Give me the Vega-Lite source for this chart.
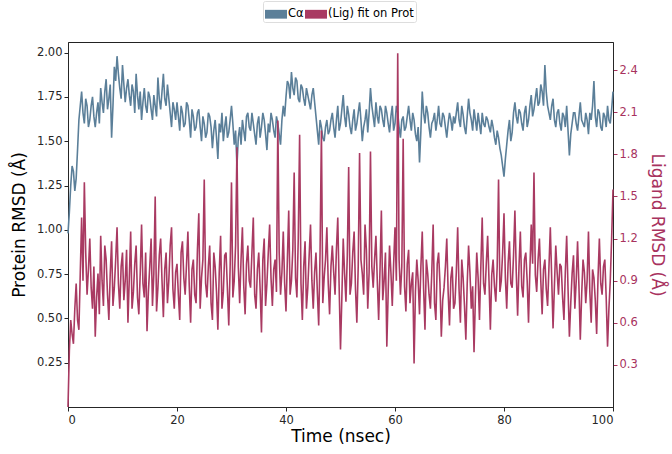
{
"$schema":"https://vega.github.io/schema/vega-lite/v6.json",
"width":545,"height":365,
"autosize":{"type":"none"},
"padding":{"left":68,"top":42,"right":59,"bottom":47},
"background":"white",
"config":{"font":"DejaVu Sans","view":{"stroke":"#222222","strokeWidth":1},
 "axis":{"grid":false,"labelFont":"DejaVu Sans","labelFontSize":11.5,"labelColor":"#262626","tickColor":"#262626","domainColor":"#262626","titleFont":"DejaVu Sans","titleFontSize":17,"titleFontWeight":"normal","titleColor":"black","tickSize":4}},
"data":{"values":[
{"t":0,"p":0.98,"l":0},{"t":0.25,"p":1.1,"l":0.4},{"t":0.5,"p":1.25,"l":0.62},{"t":0.75,"p":1.36,"l":0.52},{"t":1,"p":1.33,"l":0.45},{"t":1.25,"p":1.22,"l":0.7},{"t":1.5,"p":1.29,"l":0.88},{"t":1.75,"p":1.45,"l":0.62},{"t":2,"p":1.62,"l":0.55},{"t":2.25,"p":1.7,"l":0.95},{"t":2.5,"p":1.78,"l":1.35},{"t":2.75,"p":1.66,"l":0.9},{"t":3,"p":1.6,"l":1.6},{"t":3.25,"p":1.74,"l":1.1},{"t":3.5,"p":1.7,"l":0.8},{"t":3.75,"p":1.58,"l":0.98},{"t":4,"p":1.62,"l":1.2},{"t":4.25,"p":1.7,"l":0.85},{"t":4.5,"p":1.75,"l":0.7},{"t":4.75,"p":1.64,"l":1.0},
{"t":5,"p":1.58,"l":0.5},{"t":5.25,"p":1.66,"l":0.78},{"t":5.5,"p":1.72,"l":0.95},{"t":5.75,"p":1.6,"l":0.66},{"t":6,"p":1.8,"l":1.22},{"t":6.25,"p":1.72,"l":0.9},{"t":6.5,"p":1.66,"l":0.72},{"t":6.75,"p":1.78,"l":1.15},{"t":7,"p":1.85,"l":1.05},{"t":7.25,"p":1.68,"l":0.8},{"t":7.5,"p":1.74,"l":0.62},{"t":7.75,"p":1.82,"l":0.95},{"t":8,"p":1.52,"l":1.18},{"t":8.25,"p":1.7,"l":0.72},{"t":8.5,"p":1.92,"l":0.85},{"t":8.75,"p":1.84,"l":1.05},{"t":9,"p":1.98,"l":1.28},{"t":9.25,"p":1.88,"l":0.88},{"t":9.5,"p":1.8,"l":0.7},{"t":9.75,"p":1.74,"l":1.0},
{"t":10,"p":1.93,"l":1.1},{"t":10.25,"p":1.82,"l":0.76},{"t":10.5,"p":1.72,"l":0.9},{"t":10.75,"p":1.8,"l":1.12},{"t":11,"p":1.85,"l":0.6},{"t":11.25,"p":1.76,"l":0.92},{"t":11.5,"p":1.7,"l":1.25},{"t":11.75,"p":1.82,"l":0.7},{"t":12,"p":1.78,"l":0.82},{"t":12.25,"p":1.66,"l":1.02},{"t":12.5,"p":1.88,"l":1.15},{"t":12.75,"p":1.76,"l":0.78},{"t":13,"p":1.68,"l":0.66},{"t":13.25,"p":1.78,"l":0.95},{"t":13.5,"p":1.62,"l":1.3},{"t":13.75,"p":1.72,"l":0.88},{"t":14,"p":1.8,"l":0.78},{"t":14.25,"p":1.7,"l":1.1},{"t":14.5,"p":1.66,"l":0.54},{"t":14.75,"p":1.78,"l":0.82},
{"t":15,"p":1.75,"l":1.0},{"t":15.25,"p":1.68,"l":1.2},{"t":15.5,"p":1.62,"l":0.72},{"t":15.75,"p":1.76,"l":0.95},{"t":16,"p":1.7,"l":1.5},{"t":16.25,"p":1.64,"l":0.68},{"t":16.5,"p":1.86,"l":0.85},{"t":16.75,"p":1.74,"l":1.08},{"t":17,"p":1.68,"l":1.2},{"t":17.25,"p":1.78,"l":0.9},{"t":17.5,"p":1.88,"l":0.64},{"t":17.75,"p":1.74,"l":0.98},{"t":18,"p":1.7,"l":1.1},{"t":18.25,"p":1.82,"l":0.74},{"t":18.5,"p":1.74,"l":0.9},{"t":18.75,"p":1.66,"l":1.15},{"t":19,"p":1.58,"l":1.28},{"t":19.25,"p":1.72,"l":0.84},{"t":19.5,"p":1.68,"l":0.7},{"t":19.75,"p":1.62,"l":0.96},
{"t":20,"p":1.72,"l":1.02},{"t":20.25,"p":1.64,"l":0.8},{"t":20.5,"p":1.56,"l":0.62},{"t":20.75,"p":1.7,"l":1.1},{"t":21,"p":1.66,"l":1.18},{"t":21.25,"p":1.58,"l":0.92},{"t":21.5,"p":1.6,"l":0.8},{"t":21.75,"p":1.72,"l":1.02},{"t":22,"p":1.7,"l":1.25},{"t":22.25,"p":1.62,"l":0.86},{"t":22.5,"p":1.52,"l":0.6},{"t":22.75,"p":1.68,"l":0.98},{"t":23,"p":1.64,"l":1.05},{"t":23.25,"p":1.56,"l":0.8},{"t":23.5,"p":1.58,"l":0.74},{"t":23.75,"p":1.66,"l":1.12},{"t":24,"p":1.68,"l":1.38},{"t":24.25,"p":1.58,"l":0.7},{"t":24.5,"p":1.5,"l":0.92},{"t":24.75,"p":1.64,"l":1.05},
{"t":25,"p":1.6,"l":1.62},{"t":25.25,"p":1.52,"l":0.88},{"t":25.5,"p":1.55,"l":0.78},{"t":25.75,"p":1.66,"l":1.0},{"t":26,"p":1.64,"l":1.15},{"t":26.25,"p":1.58,"l":0.74},{"t":26.5,"p":1.46,"l":0.62},{"t":26.75,"p":1.56,"l":1.1},{"t":27,"p":1.62,"l":1.0},{"t":27.25,"p":1.52,"l":0.82},{"t":27.5,"p":1.4,"l":0.55},{"t":27.75,"p":1.6,"l":0.96},{"t":28,"p":1.55,"l":1.22},{"t":28.25,"p":1.66,"l":0.7},{"t":28.5,"p":1.5,"l":0.82},{"t":28.75,"p":1.58,"l":1.08},{"t":29,"p":1.64,"l":1.1},{"t":29.25,"p":1.52,"l":0.84},{"t":29.5,"p":1.55,"l":0.58},{"t":29.75,"p":1.62,"l":1.0},
{"t":30,"p":1.7,"l":1.6},{"t":30.25,"p":1.6,"l":0.78},{"t":30.5,"p":1.48,"l":0.9},{"t":30.75,"p":1.56,"l":1.15},{"t":31,"p":1.36,"l":1.85},{"t":31.25,"p":1.52,"l":1.0},{"t":31.5,"p":1.58,"l":0.74},{"t":31.75,"p":1.48,"l":1.05},{"t":32,"p":1.62,"l":1.28},{"t":32.25,"p":1.56,"l":0.86},{"t":32.5,"p":1.5,"l":0.66},{"t":32.75,"p":1.64,"l":1.02},{"t":33,"p":1.66,"l":1.15},{"t":33.25,"p":1.58,"l":0.9},{"t":33.5,"p":1.56,"l":0.85},{"t":33.75,"p":1.66,"l":1.1},{"t":34,"p":1.6,"l":1.35},{"t":34.25,"p":1.54,"l":0.8},{"t":34.5,"p":1.48,"l":0.7},{"t":34.75,"p":1.6,"l":0.98},
{"t":35,"p":1.64,"l":1.1},{"t":35.25,"p":1.52,"l":0.84},{"t":35.5,"p":1.58,"l":0.53},{"t":35.75,"p":1.66,"l":1.05},{"t":36,"p":1.62,"l":1.2},{"t":36.25,"p":1.54,"l":0.72},{"t":36.5,"p":1.45,"l":0.88},{"t":36.75,"p":1.6,"l":1.1},{"t":37,"p":1.55,"l":1.3},{"t":37.25,"p":1.66,"l":0.92},{"t":37.5,"p":1.62,"l":0.72},{"t":37.75,"p":1.56,"l":0.98},{"t":38,"p":1.52,"l":1.05},{"t":38.25,"p":1.64,"l":0.82},{"t":38.5,"p":1.6,"l":2.04},{"t":38.75,"p":1.54,"l":1.1},{"t":39,"p":1.48,"l":0.8},{"t":39.25,"p":1.62,"l":0.96},{"t":39.5,"p":1.7,"l":1.25},{"t":39.75,"p":1.64,"l":0.88},
{"t":40,"p":1.75,"l":0.68},{"t":40.25,"p":1.84,"l":1.05},{"t":40.5,"p":1.82,"l":1.4},{"t":40.75,"p":1.74,"l":0.8},{"t":41,"p":1.89,"l":0.9},{"t":41.25,"p":1.8,"l":1.12},{"t":41.5,"p":1.76,"l":1.67},{"t":41.75,"p":1.86,"l":0.92},{"t":42,"p":1.84,"l":0.78},{"t":42.25,"p":1.74,"l":1.2},{"t":42.5,"p":1.72,"l":1.94},{"t":42.75,"p":1.82,"l":0.88},{"t":43,"p":1.8,"l":0.62},{"t":43.25,"p":1.74,"l":1.0},{"t":43.5,"p":1.7,"l":1.18},{"t":43.75,"p":1.8,"l":0.7},{"t":44,"p":1.76,"l":0.85},{"t":44.25,"p":1.72,"l":1.08},{"t":44.5,"p":1.68,"l":1.3},{"t":44.75,"p":1.76,"l":0.9},
{"t":45,"p":1.8,"l":0.7},{"t":45.25,"p":1.72,"l":0.96},{"t":45.5,"p":1.64,"l":1.1},{"t":45.75,"p":1.56,"l":0.82},{"t":46,"p":1.48,"l":0.58},{"t":46.25,"p":1.62,"l":1.1},{"t":46.5,"p":1.58,"l":1.97},{"t":46.75,"p":1.52,"l":0.74},{"t":47,"p":1.5,"l":0.92},{"t":47.25,"p":1.58,"l":1.05},{"t":47.5,"p":1.62,"l":1.28},{"t":47.75,"p":1.54,"l":0.88},{"t":48,"p":1.56,"l":0.66},{"t":48.25,"p":1.62,"l":1.0},{"t":48.5,"p":1.66,"l":1.15},{"t":48.75,"p":1.58,"l":0.96},{"t":49,"p":1.52,"l":0.8},{"t":49.25,"p":1.62,"l":1.12},{"t":49.5,"p":1.7,"l":1.35},{"t":49.75,"p":1.56,"l":0.86},
{"t":50,"p":1.6,"l":0.41},{"t":50.25,"p":1.68,"l":0.78},{"t":50.5,"p":1.76,"l":1.2},{"t":50.75,"p":1.64,"l":0.95},{"t":51,"p":1.58,"l":0.75},{"t":51.25,"p":1.7,"l":1.08},{"t":51.5,"p":1.65,"l":1.71},{"t":51.75,"p":1.58,"l":0.8},{"t":52,"p":1.54,"l":0.88},{"t":52.25,"p":1.62,"l":1.1},{"t":52.5,"p":1.68,"l":1.25},{"t":52.75,"p":1.56,"l":0.84},{"t":53,"p":1.6,"l":0.6},{"t":53.25,"p":1.66,"l":1.0},{"t":53.5,"p":1.72,"l":1.81},{"t":53.75,"p":1.62,"l":1.05},{"t":54,"p":1.5,"l":0.95},{"t":54.25,"p":1.58,"l":0.8},{"t":54.5,"p":1.62,"l":1.3},{"t":54.75,"p":1.68,"l":1.12},
{"t":55,"p":1.55,"l":0.7},{"t":55.25,"p":1.66,"l":0.96},{"t":55.5,"p":1.8,"l":1.82},{"t":55.75,"p":1.7,"l":1.0},{"t":56,"p":1.64,"l":0.85},{"t":56.25,"p":1.58,"l":1.05},{"t":56.5,"p":1.72,"l":1.22},{"t":56.75,"p":1.64,"l":0.9},{"t":57,"p":1.6,"l":0.62},{"t":57.25,"p":1.7,"l":0.98},{"t":57.5,"p":1.68,"l":1.4},{"t":57.75,"p":1.62,"l":0.76},{"t":58,"p":1.58,"l":0.9},{"t":58.25,"p":1.7,"l":1.1},{"t":58.5,"p":1.66,"l":0.43},{"t":58.75,"p":1.6,"l":0.82},{"t":59,"p":1.55,"l":1.15},{"t":59.25,"p":1.64,"l":0.96},{"t":59.5,"p":1.7,"l":0.72},{"t":59.75,"p":1.56,"l":1.02},
{"t":60,"p":1.6,"l":1.28},{"t":60.25,"p":1.7,"l":0.9},{"t":60.5,"p":1.66,"l":2.52},{"t":60.75,"p":1.58,"l":1.05},{"t":61,"p":1.52,"l":0.8},{"t":61.25,"p":1.62,"l":1.0},{"t":61.5,"p":1.64,"l":1.91},{"t":61.75,"p":1.56,"l":0.86},{"t":62,"p":1.58,"l":0.68},{"t":62.25,"p":1.64,"l":1.02},{"t":62.5,"p":1.7,"l":1.12},{"t":62.75,"p":1.62,"l":0.74},{"t":63,"p":1.56,"l":0.88},{"t":63.25,"p":1.66,"l":0.96},{"t":63.5,"p":1.62,"l":0.31},{"t":63.75,"p":1.54,"l":0.82},{"t":64,"p":1.5,"l":1.05},{"t":64.25,"p":1.58,"l":0.9},{"t":64.5,"p":1.38,"l":0.66},{"t":64.75,"p":1.56,"l":1.0},
{"t":65,"p":1.78,"l":1.25},{"t":65.25,"p":1.66,"l":0.84},{"t":65.5,"p":1.6,"l":0.55},{"t":65.75,"p":1.7,"l":1.05},{"t":66,"p":1.66,"l":0.95},{"t":66.25,"p":1.58,"l":0.8},{"t":66.5,"p":1.52,"l":0.7},{"t":66.75,"p":1.6,"l":0.96},{"t":67,"p":1.62,"l":1.3},{"t":67.25,"p":1.66,"l":0.74},{"t":67.5,"p":1.56,"l":0.62},{"t":67.75,"p":1.62,"l":1.02},{"t":68,"p":1.7,"l":1.1},{"t":68.25,"p":1.6,"l":0.88},{"t":68.5,"p":1.58,"l":0.5},{"t":68.75,"p":1.66,"l":0.76},{"t":69,"p":1.64,"l":0.85},{"t":69.25,"p":1.58,"l":1.0},{"t":69.5,"p":1.52,"l":1.2},{"t":69.75,"p":1.6,"l":0.82},
{"t":70,"p":1.66,"l":0.58},{"t":70.25,"p":1.62,"l":0.92},{"t":70.5,"p":1.56,"l":1.0},{"t":70.75,"p":1.64,"l":0.7},{"t":71,"p":1.6,"l":0.74},{"t":71.25,"p":1.66,"l":0.96},{"t":71.5,"p":1.72,"l":1.28},{"t":71.75,"p":1.62,"l":0.84},{"t":72,"p":1.58,"l":0.6},{"t":72.25,"p":1.7,"l":1.05},{"t":72.5,"p":1.65,"l":0.92},{"t":72.75,"p":1.58,"l":0.72},{"t":73,"p":1.54,"l":0.48},{"t":73.25,"p":1.64,"l":0.88},{"t":73.5,"p":1.74,"l":1.15},{"t":73.75,"p":1.66,"l":0.96},{"t":74,"p":1.62,"l":0.7},{"t":74.25,"p":1.56,"l":0.86},{"t":74.5,"p":1.68,"l":0.39},{"t":74.75,"p":1.62,"l":0.78},
{"t":75,"p":1.56,"l":1.1},{"t":75.25,"p":1.66,"l":0.92},{"t":75.5,"p":1.6,"l":0.62},{"t":75.75,"p":1.54,"l":1.0},{"t":76,"p":1.66,"l":1.35},{"t":76.25,"p":1.6,"l":0.88},{"t":76.5,"p":1.58,"l":0.8},{"t":76.75,"p":1.64,"l":1.02},{"t":77,"p":1.62,"l":1.22},{"t":77.25,"p":1.58,"l":0.9},{"t":77.5,"p":1.55,"l":0.55},{"t":77.75,"p":1.62,"l":0.94},{"t":78,"p":1.58,"l":1.05},{"t":78.25,"p":1.52,"l":0.86},{"t":78.5,"p":1.48,"l":0.75},{"t":78.75,"p":1.56,"l":1.0},{"t":79,"p":1.52,"l":1.62},{"t":79.25,"p":1.46,"l":0.82},{"t":79.5,"p":1.42,"l":0.9},{"t":79.75,"p":1.36,"l":1.1},
{"t":80,"p":1.3,"l":1.38},{"t":80.25,"p":1.4,"l":0.92},{"t":80.5,"p":1.48,"l":0.7},{"t":80.75,"p":1.56,"l":1.02},{"t":81,"p":1.62,"l":1.18},{"t":81.25,"p":1.5,"l":0.88},{"t":81.5,"p":1.55,"l":0.85},{"t":81.75,"p":1.66,"l":1.08},{"t":82,"p":1.72,"l":1.4},{"t":82.25,"p":1.64,"l":0.96},{"t":82.5,"p":1.6,"l":0.65},{"t":82.75,"p":1.68,"l":1.0},{"t":83,"p":1.66,"l":1.25},{"t":83.25,"p":1.6,"l":0.86},{"t":83.5,"p":1.56,"l":0.78},{"t":83.75,"p":1.66,"l":1.05},{"t":84,"p":1.7,"l":1.1},{"t":84.25,"p":1.58,"l":0.9},{"t":84.5,"p":1.62,"l":0.6},{"t":84.75,"p":1.7,"l":0.98},
{"t":85,"p":1.76,"l":1.3},{"t":85.25,"p":1.64,"l":1.02},{"t":85.5,"p":1.68,"l":1.67},{"t":85.75,"p":1.74,"l":0.94},{"t":86,"p":1.8,"l":0.82},{"t":86.25,"p":1.7,"l":1.05},{"t":86.5,"p":1.72,"l":1.2},{"t":86.75,"p":1.82,"l":0.9},{"t":87,"p":1.78,"l":0.66},{"t":87.25,"p":1.7,"l":0.98},{"t":87.5,"p":1.93,"l":1.05},{"t":87.75,"p":1.78,"l":0.84},{"t":88,"p":1.7,"l":0.72},{"t":88.25,"p":1.66,"l":1.0},{"t":88.5,"p":1.62,"l":1.28},{"t":88.75,"p":1.7,"l":0.92},{"t":89,"p":1.74,"l":0.56},{"t":89.25,"p":1.62,"l":0.86},{"t":89.5,"p":1.58,"l":1.15},{"t":89.75,"p":1.66,"l":0.96},
{"t":90,"p":1.68,"l":0.8},{"t":90.25,"p":1.6,"l":1.02},{"t":90.5,"p":1.56,"l":1.0},{"t":90.75,"p":1.66,"l":0.78},{"t":91,"p":1.64,"l":0.62},{"t":91.25,"p":1.58,"l":0.96},{"t":91.5,"p":1.7,"l":1.22},{"t":91.75,"p":1.56,"l":0.84},{"t":92,"p":1.42,"l":0.5},{"t":92.25,"p":1.54,"l":0.74},{"t":92.5,"p":1.6,"l":0.95},{"t":92.75,"p":1.66,"l":1.08},{"t":93,"p":1.66,"l":0.7},{"t":93.25,"p":1.6,"l":0.9},{"t":93.5,"p":1.56,"l":1.18},{"t":93.75,"p":1.64,"l":0.86},{"t":94,"p":1.72,"l":0.48},{"t":94.25,"p":1.62,"l":0.8},{"t":94.5,"p":1.6,"l":1.05},{"t":94.75,"p":1.58,"l":0.96},
{"t":95,"p":1.66,"l":0.74},{"t":95.25,"p":1.62,"l":0.9},{"t":95.5,"p":1.54,"l":1.25},{"t":95.75,"p":1.66,"l":0.82},{"t":96,"p":1.62,"l":0.6},{"t":96.25,"p":1.7,"l":0.98},{"t":96.5,"p":1.84,"l":0.92},{"t":96.75,"p":1.64,"l":0.76},{"t":97,"p":1.58,"l":0.52},{"t":97.25,"p":1.68,"l":0.92},{"t":97.5,"p":1.66,"l":1.2},{"t":97.75,"p":1.58,"l":0.88},{"t":98,"p":1.56,"l":0.8},{"t":98.25,"p":1.66,"l":1.0},{"t":98.5,"p":1.64,"l":1.05},{"t":98.75,"p":1.58,"l":0.78},{"t":99,"p":1.7,"l":0.43},{"t":99.25,"p":1.62,"l":0.7},{"t":99.5,"p":1.6,"l":0.9},{"t":99.75,"p":1.68,"l":1.2},
{"t":100,"p":1.78,"l":1.55}
]},
"encoding":{"x":{"field":"t","type":"quantitative","scale":{"domain":[0,100],"nice":false},"axis":{"values":[0,20,40,60,80,100],"title":"Time (nsec)","titlePadding":3,"labelPadding":3}}},
"layer":[
 {"mark":{"type":"line","strokeWidth":1.6,"strokeJoin":"miter"},
  "encoding":{
   "y":{"field":"p","type":"quantitative","scale":{"domain":[0,2.06],"nice":false,"zero":false},"axis":{"values":[0.25,0.5,0.75,1.0,1.25,1.5,1.75,2.0],"format":".2f","title":"Protein RMSD (Å)","titlePadding":8}},
   "color":{"datum":"Cα","type":"nominal","scale":{"domain":["Cα","(Lig) fit on Prot"],"range":["#5b7f99","#a93a62"]},
     "legend":{"orient":"none","legendX":195,"legendY":-41,"direction":"horizontal","title":null,"symbolType":"M-1,-0.4H1V0.4H-1Z","symbolSize":484,"symbolStrokeWidth":0,"labelFontSize":11.5,"labelColor":"black","labelFont":"DejaVu Sans","labelOffset":1,"columnPadding":1,"padding":2,"fillColor":"white","strokeColor":"#dddddd","cornerRadius":2,
       "encode":{"symbols":{"update":{"fill":{"scale":"color","field":"value"},"opacity":{"value":1}}}}}}
  }},
 {"mark":{"type":"line","strokeWidth":1.6,"strokeJoin":"miter"},
  "encoding":{
   "y":{"field":"l","type":"quantitative","scale":{"domain":[0,2.6],"nice":false,"zero":false},"axis":{"orient":"right","values":[0.3,0.6,0.9,1.2,1.5,1.8,2.1,2.4],"format":".1f","title":"Ligand RMSD (Å)","titleColor":"#a8325e","labelColor":"#a8325e","tickColor":"#a8325e","titlePadding":10}},
   "color":{"datum":"(Lig) fit on Prot","type":"nominal"}
  }}
],
"resolve":{"scale":{"y":"independent"}}
}
